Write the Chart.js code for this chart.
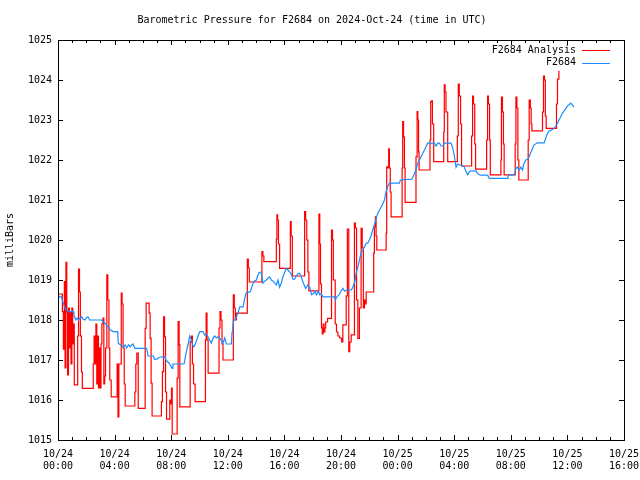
<!DOCTYPE html>
<html>
<head>
<meta charset="utf-8">
<title>Barometric Pressure for F2684</title>
<script src="https://cdn.jsdelivr.net/npm/chart.js@4.4.1/dist/chart.umd.min.js"></script>
<style>
  html, body { margin: 0; padding: 0; background: #fff; }
  #pressureChart { display: block; }
</style>
</head>
<body>
<canvas id="pressureChart" width="640" height="480"></canvas>
<script>
const chartTitle = 'Barometric Pressure for F2684 on 2024-Oct-24 (time in UTC)';
const yAxisTitle = 'milliBars';
const seriesNames = ['F2684 Analysis', 'F2684'];
const seriesColors = ['#ff0000', '#1c8cff'];

// x is hours since 10/24 00:00 UTC
const xTickHours = [0, 4, 8, 12, 16, 20, 24, 28, 32, 36, 40];
const xTickLabels = [
    ['10/24', '00:00'], ['10/24', '04:00'], ['10/24', '08:00'], ['10/24', '12:00'],
    ['10/24', '16:00'], ['10/24', '20:00'], ['10/25', '00:00'], ['10/25', '04:00'],
    ['10/25', '08:00'], ['10/25', '12:00'], ['10/25', '16:00']
];
const yTicks = [1015, 1016, 1017, 1018, 1019, 1020, 1021, 1022, 1023, 1024, 1025];

// [hour, mbar] - analysis value holds until the next point
const analysisPoints = [
    [0.00, 1018.65], [0.31, 1018.21], [0.38, 1017.27], [0.45, 1018.96], [0.50, 1016.8],
    [0.56, 1019.44], [0.62, 1018.2], [0.68, 1016.63], [0.74, 1018.3], [0.80, 1017.3],
    [0.86, 1018.2], [0.92, 1016.9], [0.98, 1018.3], [1.04, 1017.4], [1.10, 1017.9],
    [1.15, 1016.38], [1.39, 1017.6], [1.45, 1019.27], [1.52, 1018.7], [1.58, 1017.6],
    [1.66, 1016.7], [1.72, 1016.29], [2.49, 1016.9], [2.55, 1017.6], [2.62, 1016.9],
    [2.68, 1017.9], [2.74, 1016.4], [2.80, 1017.6], [2.86, 1016.3], [2.92, 1017.3],
    [2.98, 1016.3], [3.04, 1017.4], [3.10, 1017.9], [3.18, 1018.05], [3.24, 1016.4],
    [3.30, 1016.6], [3.36, 1017.3], [3.45, 1019.13], [3.52, 1018.5], [3.60, 1017.3],
    [3.66, 1016.5], [3.76, 1016.08], [4.18, 1016.9], [4.24, 1015.58], [4.30, 1016.9],
    [4.47, 1018.67], [4.53, 1018.4], [4.60, 1017.3], [4.68, 1016.4], [4.75, 1015.85],
    [5.43, 1016.2], [5.50, 1016.9], [5.57, 1017.17], [5.67, 1015.79], [6.16, 1017.79],
    [6.23, 1018.42], [6.44, 1018.17], [6.51, 1017.54], [6.58, 1016.42], [6.65, 1015.6],
    [7.31, 1015.96], [7.38, 1016.71], [7.46, 1018.08], [7.53, 1017.58], [7.60, 1016.2],
    [7.67, 1015.52], [7.90, 1016.0], [7.97, 1015.9], [8.02, 1016.3], [8.07, 1015.15],
    [8.42, 1016.54], [8.49, 1017.96], [8.56, 1017.38], [8.61, 1015.83], [9.34, 1017.46],
    [9.43, 1017.6], [9.50, 1016.9], [9.58, 1016.4], [9.69, 1015.96], [10.42, 1017.5],
    [10.47, 1018.17], [10.53, 1017.5], [10.61, 1016.67], [11.38, 1017.8], [11.45, 1018.21],
    [11.52, 1018.0], [11.59, 1017.4], [11.66, 1017.0], [12.39, 1018.63], [12.46, 1018.3],
    [12.53, 1018.0], [12.60, 1018.17], [13.38, 1019.52], [13.45, 1019.3], [13.52, 1018.95],
    [14.41, 1019.71], [14.48, 1019.6], [14.55, 1019.46], [15.43, 1020.02], [15.47, 1020.63],
    [15.52, 1020.5], [15.58, 1019.9], [15.66, 1019.29], [16.42, 1020.46], [16.48, 1020.1],
    [16.56, 1019.1], [17.43, 1020.71], [17.50, 1020.5], [17.58, 1020.0], [17.66, 1019.2],
    [17.73, 1018.73], [18.44, 1020.65], [18.50, 1019.9], [18.55, 1018.9], [18.62, 1017.8],
    [18.68, 1017.65], [18.74, 1017.9], [18.80, 1017.7], [18.86, 1017.8], [18.92, 1017.95],
    [19.05, 1018.04], [19.33, 1020.25], [19.40, 1020.0], [19.46, 1019.0], [19.59, 1017.9],
    [19.68, 1017.7], [19.78, 1017.6], [19.90, 1017.55], [20.04, 1017.45], [20.13, 1017.88],
    [20.37, 1018.6], [20.45, 1020.27], [20.55, 1017.21], [20.62, 1017.45], [20.72, 1017.63],
    [20.95, 1020.42], [21.02, 1020.3], [21.10, 1018.5], [21.19, 1017.54], [21.30, 1018.3],
    [21.42, 1020.29], [21.50, 1019.8], [21.58, 1018.3], [21.66, 1018.5], [21.72, 1018.4],
    [21.78, 1018.7], [22.31, 1019.67], [22.36, 1020.33], [22.43, 1020.58], [22.48, 1020.1],
    [22.53, 1019.75], [23.19, 1020.17], [23.23, 1021.83], [23.30, 1021.8], [23.37, 1022.28],
    [23.42, 1021.8], [23.48, 1021.2], [23.54, 1020.58], [24.32, 1021.8], [24.36, 1022.96],
    [24.42, 1022.58], [24.48, 1021.8], [24.53, 1020.94], [25.30, 1022.08], [25.38, 1023.21],
    [25.43, 1023.0], [25.48, 1022.2], [25.52, 1021.75], [26.29, 1022.5], [26.34, 1023.46],
    [26.40, 1023.48], [26.46, 1022.9], [26.55, 1021.96], [27.26, 1022.7], [27.30, 1023.88],
    [27.36, 1023.7], [27.42, 1023.2], [27.54, 1021.96], [28.22, 1022.6], [28.29, 1023.9],
    [28.36, 1023.6], [28.45, 1022.9], [28.52, 1021.85], [29.23, 1022.6], [29.30, 1023.6],
    [29.36, 1023.4], [29.45, 1022.4], [29.51, 1021.77], [30.29, 1022.5], [30.36, 1023.6],
    [30.42, 1023.4], [30.50, 1022.5], [30.55, 1021.63], [31.30, 1022.0], [31.34, 1023.57],
    [31.41, 1023.2], [31.48, 1022.4], [31.53, 1021.63], [32.31, 1022.4], [32.36, 1023.57],
    [32.43, 1023.3], [32.50, 1022.0], [32.57, 1021.5], [33.23, 1022.5], [33.30, 1023.5],
    [33.38, 1023.3], [33.44, 1022.9], [33.49, 1022.73], [34.24, 1023.2], [34.31, 1024.1],
    [34.38, 1024.0], [34.44, 1023.1], [34.50, 1022.79], [35.23, 1023.4], [35.30, 1024.02],
    [35.40, 1024.23]
];

// [hour, mbar] - station reading
const stationPoints = [
    [0.00, 1018.52], [0.10, 1018.58], [0.26, 1018.58], [0.30, 1018.5], [0.40, 1018.4],
    [0.50, 1018.29], [0.73, 1018.21], [1.09, 1018.21], [1.12, 1018.13], [1.25, 1018.0],
    [1.35, 1018.05], [1.45, 1018.0], [1.67, 1018.08], [1.78, 1018.02], [1.90, 1018.0],
    [2.00, 1018.05], [2.12, 1018.08], [2.23, 1018.0], [3.08, 1018.0], [3.20, 1017.95],
    [3.43, 1017.88], [3.55, 1017.83], [3.70, 1017.75], [3.90, 1017.71], [4.22, 1017.71],
    [4.26, 1017.42], [4.40, 1017.38], [4.61, 1017.32], [4.75, 1017.38], [4.85, 1017.3],
    [4.98, 1017.38], [5.10, 1017.33], [5.22, 1017.38], [5.30, 1017.4], [5.43, 1017.29],
    [6.26, 1017.29], [6.37, 1017.1], [6.75, 1017.1], [6.80, 1017.02], [7.00, 1017.02],
    [7.08, 1017.05], [7.30, 1017.08], [7.55, 1017.08], [7.62, 1017.0], [7.85, 1016.92],
    [8.07, 1016.79], [8.12, 1016.9], [8.91, 1016.9], [9.00, 1017.08], [9.10, 1017.25],
    [9.20, 1017.4], [9.31, 1017.6], [9.43, 1017.5], [9.50, 1017.38], [9.60, 1017.33],
    [9.72, 1017.42], [9.90, 1017.6], [10.02, 1017.71], [10.25, 1017.71], [10.36, 1017.62],
    [10.48, 1017.65], [10.60, 1017.58], [10.72, 1017.5], [10.84, 1017.42], [10.95, 1017.55],
    [11.07, 1017.6], [11.20, 1017.55], [11.30, 1017.58], [11.42, 1017.55], [11.55, 1017.48],
    [11.66, 1017.42], [11.78, 1017.55], [11.90, 1017.4], [12.25, 1017.4], [12.30, 1017.7],
    [12.35, 1017.82], [12.39, 1017.98], [12.50, 1018.0], [12.61, 1018.08], [12.72, 1018.18],
    [12.85, 1018.33], [13.08, 1018.33], [13.20, 1018.55], [13.31, 1018.68], [13.60, 1018.71],
    [13.78, 1018.92], [13.90, 1018.98], [14.02, 1019.0], [14.10, 1019.1], [14.21, 1019.18],
    [14.35, 1019.2], [14.48, 1018.92], [14.60, 1018.97], [14.72, 1019.0], [14.85, 1019.05],
    [14.96, 1019.08], [15.08, 1019.0], [15.20, 1018.97], [15.32, 1018.92], [15.43, 1018.88],
    [15.55, 1019.0], [15.66, 1018.82], [15.78, 1018.92], [15.90, 1019.08], [16.01, 1019.18],
    [16.13, 1019.29], [16.25, 1019.25], [16.37, 1019.2], [16.48, 1019.15], [16.60, 1019.02],
    [16.72, 1019.02], [16.84, 1019.1], [16.95, 1019.15], [17.07, 1019.17], [17.19, 1019.08],
    [17.31, 1018.95], [17.43, 1018.85], [17.50, 1018.79], [17.66, 1018.88], [17.80, 1018.8],
    [17.92, 1018.63], [18.05, 1018.66], [18.15, 1018.72], [18.27, 1018.63], [18.40, 1018.72],
    [18.50, 1018.63], [18.60, 1018.66], [18.72, 1018.58], [19.54, 1018.58], [19.61, 1018.5],
    [19.70, 1018.58], [19.85, 1018.62], [20.00, 1018.72], [20.13, 1018.79], [20.25, 1018.72],
    [20.40, 1018.75], [20.72, 1018.75], [20.80, 1018.79], [20.90, 1018.88], [21.00, 1019.0],
    [21.07, 1019.17], [21.20, 1019.33], [21.30, 1019.5], [21.42, 1019.67], [21.55, 1019.75],
    [21.66, 1019.83], [21.78, 1019.92], [21.89, 1019.92], [22.00, 1020.0], [22.12, 1020.1],
    [22.24, 1020.25], [22.36, 1020.38], [22.48, 1020.54], [22.60, 1020.67], [22.72, 1020.75],
    [22.84, 1020.83], [22.95, 1020.9], [23.07, 1021.0], [23.18, 1021.2], [23.30, 1021.33],
    [23.42, 1021.42], [24.13, 1021.42], [24.20, 1021.5], [25.00, 1021.52], [25.10, 1021.58],
    [25.20, 1021.67], [25.30, 1021.75], [25.42, 1021.92], [25.55, 1022.0], [25.66, 1022.08],
    [25.78, 1022.17], [25.90, 1022.25], [26.01, 1022.33], [26.12, 1022.42], [26.60, 1022.42],
    [26.72, 1022.35], [26.84, 1022.42], [26.96, 1022.42], [27.07, 1022.35], [27.19, 1022.35],
    [27.30, 1022.42], [27.77, 1022.42], [27.90, 1022.3], [28.01, 1022.1], [28.13, 1021.82],
    [28.24, 1021.9], [28.71, 1021.83], [28.83, 1021.71], [28.95, 1021.63], [29.07, 1021.71],
    [29.18, 1021.73], [29.53, 1021.73], [29.65, 1021.67], [29.77, 1021.63], [29.89, 1021.62],
    [30.36, 1021.62], [30.48, 1021.54], [31.77, 1021.54], [31.80, 1021.6], [31.89, 1021.63],
    [32.24, 1021.63], [32.36, 1021.79], [32.47, 1021.82], [32.59, 1021.75], [32.71, 1021.82],
    [32.83, 1021.75], [32.90, 1021.88], [33.06, 1022.0], [33.18, 1022.02], [33.30, 1022.08],
    [33.53, 1022.29], [33.65, 1022.38], [33.89, 1022.43], [34.36, 1022.43], [34.48, 1022.56],
    [34.59, 1022.66], [34.71, 1022.73], [34.83, 1022.74], [35.06, 1022.79], [35.18, 1022.85],
    [35.30, 1022.92], [35.41, 1023.0], [35.53, 1023.08], [35.65, 1023.17], [35.77, 1023.23],
    [35.89, 1023.29], [36.00, 1023.35], [36.12, 1023.38], [36.24, 1023.42], [36.35, 1023.38],
    [36.47, 1023.32]
];

const monoFont = '"DejaVu Sans Mono", "Liberation Mono", monospace';

// gnuplot style frame with inward ticks (minor tick every hour)
const frameTicks = {
    id: 'frameTicks',
    afterDatasetsDraw(chart) {
        const { ctx, chartArea: a, scales: { x, y } } = chart;
        ctx.save();
        ctx.strokeStyle = '#000';
        ctx.lineWidth = 1;
        ctx.beginPath();
        for (let h = x.min; h <= x.max; h++) {
            const px = Math.round(x.getPixelForValue(h)) + 0.5;
            const len = xTickHours.includes(h) ? 5 : 3;
            ctx.moveTo(px, a.bottom); ctx.lineTo(px, a.bottom - len);
            ctx.moveTo(px, a.top); ctx.lineTo(px, a.top + len);
        }
        yTicks.forEach(v => {
            const py = Math.round(y.getPixelForValue(v)) + 0.5;
            ctx.moveTo(a.left, py); ctx.lineTo(a.left + 5, py);
            ctx.moveTo(a.right, py); ctx.lineTo(a.right - 5, py);
        });
        ctx.stroke();
        ctx.strokeRect(Math.round(a.left) + 0.5, Math.round(a.top) + 0.5,
            Math.round(a.right - a.left), Math.round(a.bottom - a.top));
        ctx.restore();
    }
};

// legend in the top right corner: text first, line sample after it
const keyBox = {
    id: 'keyBox',
    afterDraw(chart) {
        const { ctx, chartArea: a } = chart;
        ctx.save();
        ctx.font = '10px ' + monoFont;
        ctx.textAlign = 'right';
        ctx.textBaseline = 'middle';
        chart.data.datasets.forEach((ds, i) => {
            const ty = a.top + 10 + i * 12.5;
            ctx.fillStyle = '#000';
            ctx.fillText(ds.label, a.right - 48, ty);
            const ly = Math.round(ty) + 0.5;
            ctx.strokeStyle = ds.borderColor;
            ctx.lineWidth = 1;
            ctx.beginPath();
            ctx.moveTo(a.right - 42, ly);
            ctx.lineTo(a.right - 14, ly);
            ctx.stroke();
        });
        ctx.restore();
    }
};

const ctx = document.getElementById('pressureChart').getContext('2d');

new Chart(ctx, {
    type: 'line',
    data: {
        datasets: [{
            label: seriesNames[0],
            data: analysisPoints.map(([h, p]) => ({ x: h, y: p })),
            borderColor: seriesColors[0],
            borderWidth: 1.2,
            stepped: true,
            pointRadius: 0,
            fill: false,
            order: 2
        }, {
            label: seriesNames[1],
            data: stationPoints.map(([h, p]) => ({ x: h, y: p })),
            borderColor: seriesColors[1],
            borderWidth: 1.2,
            tension: 0,
            pointRadius: 0,
            fill: false,
            order: 1
        }]
    },
    options: {
        responsive: false,
        animation: false,
        layout: { padding: { left: 0, right: 16, top: 0, bottom: 0 } },
        plugins: {
            legend: { display: false },
            tooltip: { enabled: false },
            title: {
                display: true,
                text: chartTitle,
                color: '#000',
                font: { family: monoFont, size: 10, weight: 'normal', lineHeight: 1.2 },
                padding: { top: 14, bottom: 14 }
            }
        },
        scales: {
            x: {
                type: 'linear',
                min: 0,
                max: 40,
                grid: { display: false, drawTicks: false },
                border: { display: false },
                ticks: {
                    stepSize: 4,
                    autoSkip: false,
                    maxRotation: 0,
                    padding: 8,
                    color: '#000',
                    font: { family: monoFont, size: 10, lineHeight: 1.25 },
                    callback: value => {
                        const i = xTickHours.indexOf(value);
                        return i >= 0 ? xTickLabels[i] : '';
                    }
                },
                afterFit: scale => {
                    scale.height = 40;
                    scale.paddingLeft = 0;
                    scale.paddingRight = 0;
                }
            },
            y: {
                min: yTicks[0],
                max: yTicks[yTicks.length - 1],
                grid: { display: false, drawTicks: false },
                border: { display: false },
                ticks: {
                    stepSize: 1,
                    padding: 6,
                    color: '#000',
                    font: { family: monoFont, size: 10 },
                    callback: value => String(value)
                },
                title: {
                    display: true,
                    text: yAxisTitle,
                    color: '#000',
                    font: { family: monoFont, size: 10 },
                    padding: { top: 4, bottom: 0 }
                },
                afterFit: scale => { scale.width = 58; }
            }
        }
    },
    plugins: [frameTicks, keyBox]
});
</script>
</body>
</html>
